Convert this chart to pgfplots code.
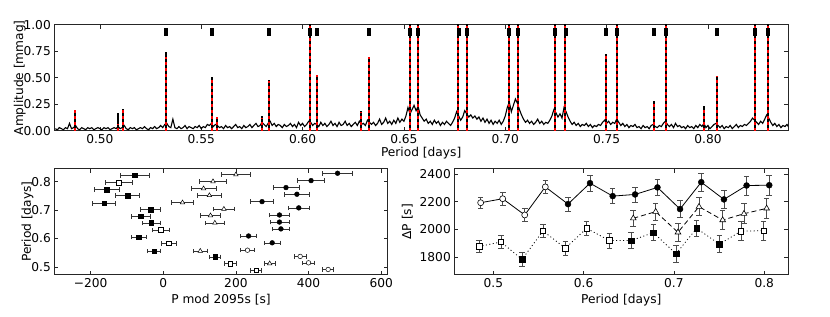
\documentclass[border=0pt]{standalone}
\usepackage{fontspec}
\setmainfont{DejaVu Sans}
\usepackage{pgfplots}
\pgfplotsset{compat=1.18}
\begin{document}
\begin{tikzpicture}[font=\fontsize{12.2}{14}\selectfont]
\pgfplotsset{
  mpl/.style={scale only axis, anchor=south west,
    axis line style={black!85, line width=0.8pt},
    tick style={black!85, line width=0.6pt},
    major tick length=4pt, tick align=inside,
    xtick pos=both, ytick pos=both,
    xticklabel pos=bottom, yticklabel pos=left,
    /pgf/number format/assume math mode=true,
    /pgf/number format/1000 sep={},
    every tick label/.append style={font=\fontsize{12.2}{14}\selectfont},
    label style={font=\fontsize{12.2}{14}\selectfont},
  },
  yerrs/.style={error bars/.cd, y dir=both, y explicit,
    error bar style={black!70, line width=0.7pt},
    error mark options={rotate=90, black!70, mark size=2.8pt, line width=0.7pt}},
  xerrs/.style={error bars/.cd, x dir=both, x explicit,
    error bar style={black!80, line width=0.6pt},
    error mark options={rotate=90, black!80, mark size=2.3pt, line width=0.6pt}},
}
\useasboundingbox (0pt,0pt) rectangle (830pt,316pt);
% ---------------- top panel ----------------
\begin{axis}[mpl, at={(54.3pt,185.2pt)}, width=733.7pt, height=106pt,
  xmin=0.4775, xmax=0.8395, ymin=0, ymax=1,
  xtick={0.50,0.55,0.60,0.65,0.70,0.75,0.80},
  ytick={0,0.25,0.5,0.75,1},
  xticklabel style={/pgf/number format/.cd, fixed, fixed zerofill, precision=2},
  yticklabel style={/pgf/number format/.cd, fixed, fixed zerofill, precision=2},
  xlabel={Period [days]}, ylabel={Amplitude [mmag]},
  xlabel style={yshift=3pt}, ylabel shift=-9pt]
\addplot[black, line width=1.1pt] coordinates {
(0.478,0.02)(0.479,0.01)(0.480,0.03)(0.481,0.02)(0.482,0.01)(0.483,0.03)(0.484,0.02)(0.485,0.07)(0.486,0.02)(0.487,0.03)
(0.488,0.05)(0.489,0.02)(0.490,0.01)(0.491,0.03)(0.492,0.02)(0.493,0.01)(0.494,0.03)(0.495,0.02)(0.496,0.03)(0.497,0.01)
(0.498,0.02)(0.499,0.03)(0.500,0.02)(0.501,0.01)(0.502,0.03)(0.503,0.02)(0.504,0.03)(0.505,0.01)(0.506,0.02)(0.507,0.03)
(0.508,0.02)(0.509,0.04)(0.510,0.02)(0.511,0.03)(0.512,0.05)(0.513,0.02)(0.514,0.01)(0.515,0.03)(0.516,0.02)(0.517,0.03)
(0.518,0.01)(0.519,0.02)(0.520,0.03)(0.521,0.02)(0.522,0.04)(0.523,0.02)(0.524,0.01)(0.525,0.03)(0.526,0.02)(0.527,0.04)
(0.528,0.02)(0.529,0.03)(0.530,0.05)(0.531,0.03)(0.532,0.06)(0.533,0.07)(0.534,0.04)(0.535,0.03)(0.536,0.11)(0.537,0.03)
(0.538,0.02)(0.539,0.04)(0.540,0.02)(0.541,0.03)(0.542,0.05)(0.543,0.02)(0.544,0.04)(0.545,0.03)(0.546,0.02)(0.547,0.04)
(0.548,0.03)(0.549,0.05)(0.550,0.02)(0.551,0.04)(0.552,0.03)(0.553,0.06)(0.554,0.05)(0.555,0.07)(0.556,0.04)(0.557,0.06)
(0.558,0.05)(0.559,0.03)(0.560,0.04)(0.561,0.02)(0.562,0.05)(0.563,0.03)(0.564,0.04)(0.565,0.02)(0.566,0.04)(0.567,0.06)
(0.568,0.03)(0.569,0.04)(0.570,0.02)(0.571,0.05)(0.572,0.03)(0.573,0.04)(0.574,0.06)(0.575,0.03)(0.576,0.05)(0.577,0.07)
(0.578,0.04)(0.579,0.05)(0.580,0.08)(0.581,0.06)(0.582,0.04)(0.583,0.07)(0.584,0.09)(0.585,0.05)(0.586,0.07)(0.587,0.04)
(0.588,0.06)(0.589,0.05)(0.590,0.03)(0.591,0.06)(0.592,0.04)(0.593,0.05)(0.594,0.07)(0.595,0.04)(0.596,0.06)(0.597,0.03)
(0.598,0.08)(0.599,0.05)(0.600,0.07)(0.601,0.04)(0.602,0.06)(0.603,0.09)(0.604,0.08)(0.605,0.05)(0.606,0.07)(0.607,0.06)
(0.608,0.04)(0.609,0.08)(0.610,0.05)(0.611,0.07)(0.612,0.04)(0.613,0.06)(0.614,0.09)(0.615,0.05)(0.616,0.07)(0.617,0.04)
(0.618,0.08)(0.619,0.05)(0.620,0.06)(0.621,0.09)(0.622,0.05)(0.623,0.07)(0.624,0.04)(0.625,0.06)(0.626,0.08)(0.627,0.05)
(0.628,0.09)(0.629,0.06)(0.630,0.07)(0.631,0.05)(0.632,0.10)(0.633,0.08)(0.634,0.06)(0.635,0.08)(0.636,0.05)(0.637,0.07)
(0.638,0.11)(0.639,0.06)(0.640,0.08)(0.641,0.12)(0.642,0.07)(0.643,0.09)(0.644,0.06)(0.645,0.10)(0.646,0.07)(0.647,0.12)
(0.648,0.08)(0.649,0.11)(0.650,0.09)(0.651,0.14)(0.652,0.22)(0.653,0.16)(0.654,0.20)(0.655,0.24)(0.656,0.19)(0.657,0.23)
(0.658,0.15)(0.659,0.12)(0.660,0.09)(0.661,0.11)(0.662,0.07)(0.663,0.09)(0.664,0.06)(0.665,0.10)(0.666,0.07)(0.667,0.09)
(0.668,0.05)(0.669,0.08)(0.670,0.06)(0.671,0.09)(0.672,0.07)(0.673,0.05)(0.674,0.08)(0.675,0.12)(0.676,0.18)(0.677,0.14)
(0.678,0.10)(0.679,0.13)(0.680,0.19)(0.681,0.16)(0.682,0.13)(0.683,0.15)(0.684,0.12)(0.685,0.14)(0.686,0.11)(0.687,0.13)
(0.688,0.09)(0.689,0.12)(0.690,0.08)(0.691,0.11)(0.692,0.07)(0.693,0.10)(0.694,0.06)(0.695,0.09)(0.696,0.07)(0.697,0.10)
(0.698,0.06)(0.699,0.09)(0.700,0.14)(0.701,0.22)(0.702,0.27)(0.703,0.18)(0.704,0.24)(0.705,0.30)(0.706,0.26)(0.707,0.20)
(0.708,0.15)(0.709,0.11)(0.710,0.08)(0.711,0.10)(0.712,0.07)(0.713,0.09)(0.714,0.06)(0.715,0.08)(0.716,0.11)(0.717,0.07)
(0.718,0.09)(0.719,0.06)(0.720,0.08)(0.721,0.07)(0.722,0.10)(0.723,0.14)(0.724,0.20)(0.725,0.17)(0.726,0.13)(0.727,0.16)
(0.728,0.12)(0.729,0.22)(0.730,0.18)(0.731,0.13)(0.732,0.09)(0.733,0.06)(0.734,0.08)(0.735,0.05)(0.736,0.07)(0.737,0.04)
(0.738,0.06)(0.739,0.05)(0.740,0.07)(0.741,0.04)(0.742,0.06)(0.743,0.03)(0.744,0.05)(0.745,0.04)(0.746,0.06)(0.747,0.05)
(0.748,0.08)(0.749,0.10)(0.750,0.07)(0.751,0.09)(0.752,0.06)(0.753,0.08)(0.754,0.07)(0.755,0.11)(0.756,0.08)(0.757,0.05)
(0.758,0.07)(0.759,0.04)(0.760,0.06)(0.761,0.03)(0.762,0.05)(0.763,0.04)(0.764,0.06)(0.765,0.03)(0.766,0.04)(0.767,0.02)
(0.768,0.05)(0.769,0.03)(0.770,0.04)(0.771,0.02)(0.772,0.05)(0.773,0.06)(0.774,0.04)(0.775,0.03)(0.776,0.05)(0.777,0.04)
(0.778,0.07)(0.779,0.09)(0.780,0.06)(0.781,0.04)(0.782,0.06)(0.783,0.03)(0.784,0.07)(0.785,0.04)(0.786,0.05)(0.787,0.03)
(0.788,0.04)(0.789,0.02)(0.790,0.05)(0.791,0.03)(0.792,0.04)(0.793,0.02)(0.794,0.05)(0.795,0.03)(0.796,0.06)(0.797,0.04)
(0.798,0.07)(0.799,0.03)(0.800,0.05)(0.801,0.02)(0.802,0.04)(0.803,0.06)(0.804,0.07)(0.805,0.05)(0.806,0.03)(0.807,0.05)
(0.808,0.02)(0.809,0.04)(0.810,0.03)(0.811,0.05)(0.812,0.02)(0.813,0.04)(0.814,0.06)(0.815,0.03)(0.816,0.05)(0.817,0.04)
(0.818,0.06)(0.819,0.05)(0.820,0.07)(0.821,0.09)(0.822,0.12)(0.823,0.10)(0.824,0.08)(0.825,0.06)(0.826,0.09)(0.827,0.07)
(0.828,0.11)(0.829,0.15)(0.830,0.12)(0.831,0.08)(0.832,0.05)(0.833,0.07)(0.834,0.04)(0.835,0.06)(0.836,0.03)(0.837,0.05)
(0.838,0.04)(0.839,0.06)(0.840,0.03)};
\addplot[ycomb, black, line width=2pt] coordinates {
(0.4875,0.20)(0.5089,0.17)(0.5113,0.21)(0.5326,0.74)(0.5551,0.51)(0.5580,0.13)(0.5798,0.14)(0.5834,0.48)
(0.6035,1.2)(0.6071,0.53)(0.6286,0.19)(0.6326,0.70)(0.6528,1.2)(0.6569,1.2)(0.6768,1.2)(0.6812,1.2)
(0.7017,1.2)(0.7062,1.2)(0.7245,1.2)(0.7296,1.2)(0.7497,0.72)(0.7551,1.2)(0.7734,0.28)(0.7791,1.2)
(0.7980,0.23)(0.8044,0.52)(0.8231,1.2)(0.8297,1.2)};
\addplot[ycomb, red, line width=2pt, dash pattern=on 3pt off 3pt] coordinates {
(0.4875,0.20)(0.5089,0.06)(0.5113,0.21)(0.5326,0.70)(0.5551,0.50)(0.5580,0.13)(0.5798,0.12)(0.5834,0.47)
(0.6035,1.2)(0.6071,0.53)(0.6286,0.18)(0.6326,0.70)(0.6528,1.2)(0.6569,1.2)(0.6768,1.2)(0.6812,1.2)
(0.7017,1.2)(0.7062,1.2)(0.7245,1.2)(0.7296,1.2)(0.7497,0.72)(0.7551,1.2)(0.7734,0.28)(0.7791,1.2)
(0.7980,0.22)(0.8044,0.52)(0.8231,1.2)(0.8297,1.2)};
\addplot[only marks, mark=square*, mark size=3.4pt, mark options={black, xscale=0.45}] coordinates {
(0.5326,0.937)(0.5551,0.937)(0.5834,0.937)(0.6035,0.937)(0.6071,0.937)(0.6326,0.937)(0.6528,0.937)
(0.6569,0.937)(0.6768,0.937)(0.6812,0.937)(0.7017,0.937)(0.7062,0.937)(0.7245,0.937)(0.7296,0.937)
(0.7497,0.937)(0.7551,0.937)(0.7734,0.937)(0.7791,0.937)(0.8044,0.937)(0.8231,0.937)(0.8297,0.937)};
\end{axis}
% ---------------- bottom left ----------------
\begin{axis}[mpl, at={(54.3pt,41.4pt)}, width=333.4pt, height=105.9pt,
  xmin=-300, xmax=618, ymin=0.473, ymax=0.846,
  xtick={-200,0,200,400,600}, xticklabels={−200,0,200,400,600},
  ytick={0.5,0.6,0.7,0.8},
  yticklabel style={/pgf/number format/.cd, fixed, fixed zerofill, precision=1},
  xlabel={P mod 2095s [s]}, ylabel={Period [days]}, ylabel shift=-9pt]
% filled squares
\addplot[only marks, mark=square*, mark size=2.3pt, mark options={black}, xerrs] coordinates {
(-78,0.823) +- (40,0) (-156,0.772) +- (35,0) (-98,0.751) +- (33,0) (-163,0.724) +- (32,0)
(-35,0.702) +- (28,0) (-62,0.678) +- (27,0) (-33,0.655) +- (26,0) (-68,0.605) +- (21,0)
(-25,0.556) +- (18,0) (143,0.535) +- (15,0)};
% open squares
\addplot[only marks, mark=square*, mark size=2.3pt, mark options={black, fill=white, line width=0.6pt}, xerrs] coordinates {
(-123,0.797) +- (37,0) (-7,0.630) +- (24,0) (15,0.583) +- (20,0) (185,0.512) +- (16,0) (256,0.488) +- (15,0)};
% open triangles
\addplot[only marks, mark=triangle*, mark size=2.6pt, mark options={black, fill=white, line width=0.5pt}, xerrs] coordinates {
(200,0.825) +- (40,0) (137,0.801) +- (37,0) (111,0.776) +- (35,0) (127,0.752) +- (33,0)
(53,0.7265) +- (31,0) (167,0.704) +- (29,0) (130,0.681) +- (27,0) (142,0.655) +- (25,0)
(102,0.556) +- (18,0) (293,0.512) +- (16,0)};
% filled circles
\addplot[only marks, mark=*, mark size=2.4pt, mark options={black}, xerrs] coordinates {
(480,0.830) +- (41,0) (407,0.804) +- (37,0) (338,0.7795) +- (36,0) (368,0.756) +- (34,0)
(272,0.730) +- (32,0) (373,0.708) +- (30,0) (320,0.683) +- (27,0) (320,0.658) +- (26,0)
(324,0.634) +- (24,0) (235,0.609) +- (22,0) (300,0.585) +- (21,0)};
% open circles
\addplot[only marks, mark=*, mark size=2.3pt, mark options={black, fill=white, line width=0.5pt}, xerrs] coordinates {
(232,0.559) +- (19,0) (377,0.537) +- (17,0) (400,0.5145) +- (16,0) (454,0.491) +- (15,0)};
\end{axis}
% ---------------- bottom right ----------------
\begin{axis}[mpl, at={(454.3pt,41.4pt)}, width=334pt, height=105.9pt,
  xmin=0.4568, xmax=0.8267, ymin=1671, ymax=2440,
  xtick={0.5,0.6,0.7,0.8}, ytick={1800,2000,2200,2400},
  xticklabel style={/pgf/number format/.cd, fixed, fixed zerofill, precision=1},
  xlabel={Period [days]}, ylabel={ΔP [s]}]
% lines
\addplot[black, line width=0.8pt] coordinates {
(0.4860,2193)(0.5104,2222)(0.5348,2104)(0.5576,2308)(0.5827,2183)(0.6071,2335)(0.6322,2241)
(0.657,2253)(0.6818,2304)(0.7068,2147)(0.7303,2342)(0.7554,2217)(0.7805,2318)(0.8056,2320)};
\addplot[black, line width=0.8pt, dash pattern=on 5pt off 3pt] coordinates {
(0.655,2080)(0.6798,2128)(0.7045,1978)(0.7278,2164)(0.754,2067)(0.7776,2113)(0.8027,2152)};
\addplot[black, line width=0.8pt, dash pattern=on 1pt off 2.5pt] coordinates {
(0.4842,1875)(0.5085,1908)(0.5318,1781)(0.555,1988)(0.5798,1863)(0.6034,2007)(0.6285,1918)
(0.6528,1918)(0.6772,1976)(0.7023,1822)(0.7252,2007)(0.7503,1892)(0.7743,1986)(0.7994,1990)};
% circles
\addplot[only marks, mark=*, mark size=3pt, mark options={black, fill=white, line width=0.6pt}, yerrs] coordinates {
(0.4860,2193) +- (0,42) (0.5104,2222) +- (0,46) (0.5348,2104) +- (0,46) (0.5576,2308) +- (0,49)};
\addplot[only marks, mark=*, mark size=3pt, mark options={black}, yerrs] coordinates {
(0.5827,2183) +- (0,51) (0.6071,2335) +- (0,56) (0.6322,2241) +- (0,53) (0.657,2253) +- (0,54)
(0.6818,2304) +- (0,60) (0.7068,2147) +- (0,60) (0.7303,2342) +- (0,63) (0.7554,2217) +- (0,63)
(0.7805,2318) +- (0,68) (0.8056,2320) +- (0,70)};
% triangles
\addplot[only marks, mark=triangle*, mark size=3.3pt, mark options={black, fill=white, line width=0.6pt}, yerrs] coordinates {
(0.655,2080) +- (0,58) (0.6798,2128) +- (0,63) (0.7045,1978) +- (0,65) (0.7278,2164) +- (0,66)
(0.754,2067) +- (0,70) (0.7776,2113) +- (0,72) (0.8027,2152) +- (0,72)};
% squares
\addplot[only marks, mark=square*, mark size=2.8pt, mark options={black, fill=white, line width=0.6pt}, yerrs] coordinates {
(0.4842,1875) +- (0,44) (0.5085,1908) +- (0,46) (0.555,1988) +- (0,50) (0.5798,1863) +- (0,53)
(0.6034,2007) +- (0,53) (0.6285,1918) +- (0,53) (0.7743,1986) +- (0,69) (0.7994,1990) +- (0,69)};
\addplot[only marks, mark=square*, mark size=2.8pt, mark options={black}, yerrs] coordinates {
(0.5318,1781) +- (0,48) (0.6528,1918) +- (0,57) (0.6772,1976) +- (0,57) (0.7023,1822) +- (0,60)
(0.7252,2007) +- (0,60) (0.7503,1892) +- (0,63)};
\end{axis}
\end{tikzpicture}
\end{document}
